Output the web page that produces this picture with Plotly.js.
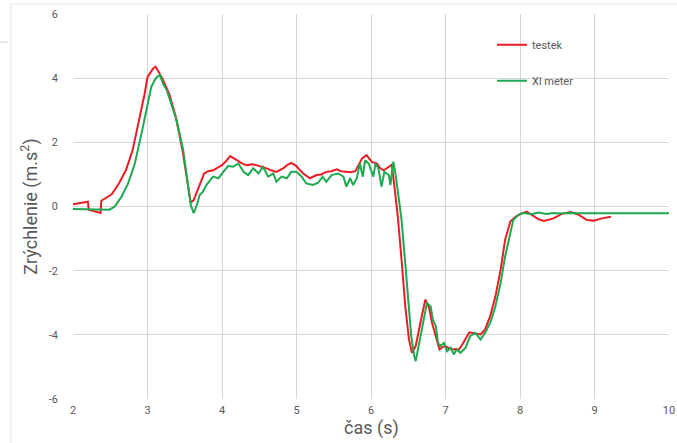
<!DOCTYPE html>
<html>
<head>
<meta charset="utf-8">
<script src="https://cdn.plot.ly/plotly-3.0.1.min.js"></script>
<style>html,body{margin:0;padding:0;background:#fff;}#chart{width:677px;height:443px;}</style>
</head>
<body>
<div id="chart"></div>
<script>
const seriesNames = ["testek", "Xl meter"];
const xTicks = [2, 3, 4, 5, 6, 7, 8, 9, 10];
const yTicks = [-6, -4, -2, 0, 2, 4, 6];

const testekX = [2.0,2.1,2.2,2.21,2.3,2.37,2.38,2.45,2.52,2.62,2.71,2.80,2.89,2.96,3.0,3.07,3.11,3.15,3.2,3.29,3.38,3.47,3.53,3.58,3.62,3.69,3.76,3.82,3.88,4.0,4.05,4.11,4.16,4.22,4.28,4.33,4.4,4.46,4.53,4.6,4.67,4.73,4.82,4.88,4.93,5.0,5.05,5.09,5.18,5.27,5.33,5.4,5.47,5.54,5.6,5.67,5.73,5.79,5.84,5.88,5.94,6.01,6.08,6.12,6.17,6.22,6.28,6.32,6.36,6.41,6.46,6.51,6.55,6.6,6.64,6.69,6.73,6.78,6.82,6.87,6.92,6.96,7.0,7.05,7.09,7.14,7.18,7.24,7.32,7.4,7.47,7.53,7.6,7.67,7.74,7.8,7.87,7.94,8.0,8.09,8.18,8.25,8.32,8.45,8.56,8.68,8.79,8.9,8.99,9.1,9.22];
const testekY = [0.07,0.1,0.15,-0.1,-0.17,-0.2,0.18,0.28,0.38,0.73,1.13,1.75,2.69,3.5,4.03,4.29,4.36,4.19,3.98,3.52,2.79,1.75,0.82,0.12,0.2,0.61,1.03,1.1,1.13,1.29,1.4,1.57,1.5,1.39,1.33,1.29,1.32,1.29,1.25,1.19,1.12,1.08,1.19,1.3,1.36,1.26,1.12,1.03,0.88,0.98,1.0,1.08,1.1,1.16,1.1,1.08,1.07,1.1,1.3,1.5,1.6,1.39,1.34,1.2,1.13,1.2,1.3,0.51,-0.32,-1.66,-3.11,-4.15,-4.56,-4.35,-3.84,-3.32,-2.9,-3.16,-3.63,-4.04,-4.46,-4.38,-4.35,-4.42,-4.46,-4.44,-4.46,-4.25,-3.92,-3.96,-3.99,-3.84,-3.42,-2.8,-1.97,-1.04,-0.47,-0.32,-0.24,-0.16,-0.3,-0.4,-0.45,-0.37,-0.23,-0.17,-0.26,-0.42,-0.44,-0.37,-0.32];

const xlX = [2.0,2.1,2.2,2.3,2.4,2.49,2.56,2.65,2.74,2.83,2.92,2.99,3.05,3.1,3.13,3.17,3.21,3.26,3.32,3.39,3.48,3.54,3.58,3.62,3.67,3.70,3.74,3.79,3.84,3.88,3.95,4.02,4.08,4.15,4.22,4.29,4.35,4.42,4.49,4.55,4.62,4.69,4.73,4.8,4.87,4.93,5.0,5.07,5.13,5.22,5.29,5.35,5.4,5.47,5.56,5.63,5.67,5.72,5.76,5.81,5.85,5.89,5.92,5.97,6.03,6.06,6.1,6.14,6.18,6.24,6.26,6.3,6.33,6.37,6.41,6.46,6.51,6.54,6.58,6.6,6.63,6.67,6.71,6.75,6.8,6.83,6.87,6.9,6.93,6.98,7.02,7.07,7.11,7.15,7.2,7.27,7.33,7.4,7.47,7.53,7.6,7.67,7.74,7.8,7.87,7.91,7.98,8.05,8.15,8.25,8.35,8.45,8.55,8.65,8.8,9.0,9.5,10.0];
const xlY = [-0.08,-0.08,-0.09,-0.09,-0.1,-0.1,0.0,0.3,0.72,1.34,2.28,3.1,3.72,3.95,4.05,4.08,3.82,3.62,3.2,2.69,1.75,0.82,0.05,-0.21,0.1,0.36,0.45,0.67,0.8,0.93,0.88,1.08,1.26,1.24,1.34,1.08,0.98,1.19,1.03,1.24,0.93,1.03,0.77,0.93,0.88,1.08,1.08,0.93,0.72,0.67,0.74,0.93,0.77,0.98,1.03,0.93,0.62,0.88,0.67,0.88,1.34,0.93,1.44,1.34,0.93,1.34,1.19,0.62,1.08,0.98,0.67,1.4,1.0,0.3,-0.42,-1.77,-3.22,-4.04,-4.66,-4.82,-4.46,-3.94,-3.53,-3.01,-3.11,-3.53,-3.73,-4.25,-4.35,-4.25,-4.51,-4.4,-4.61,-4.46,-4.56,-4.4,-4.04,-3.94,-4.15,-3.94,-3.63,-3.11,-2.38,-1.56,-0.83,-0.42,-0.26,-0.2,-0.24,-0.19,-0.23,-0.2,-0.22,-0.2,-0.21,-0.21,-0.21,-0.21];

const txt = "#595959";
const grid = "#d6d6d6";

const traces = [
  {x: testekX, y: testekY, name: seriesNames[0], type: "scatter", mode: "lines",
   line: {color: "#ec1c24", width: 2}, legendgroup: "a"},
  {x: xlX, y: xlY, name: seriesNames[1], type: "scatter", mode: "lines",
   line: {color: "#1ea84f", width: 2}, legendgroup: "b"}
];

const layout = {
  width: 677, height: 443,
  margin: {l: 73, r: 8, t: 14, b: 44},
  paper_bgcolor: "#fff", plot_bgcolor: "#fff",
  font: {family: "Roboto, sans-serif", color: txt, size: 11},
  showlegend: true,
  legend: {x: 0.703, y: 0.958, xanchor: "left", yanchor: "top", bgcolor: "rgba(0,0,0,0)",
           font: {size: 11, color: txt}, tracegroupgap: 17, itemwidth: 30},
  xaxis: {range: [2, 10], tickvals: xTicks, ticktext: xTicks.map(String), showgrid: true, gridcolor: grid,
          gridwidth: 1, zeroline: false, showline: false, ticks: "", ticklabelstandoff: 3},
  yaxis: {range: [-6, 6], tickvals: yTicks, ticktext: yTicks.map(String), showgrid: true, gridcolor: grid,
          gridwidth: 1, zeroline: false, showline: false, ticks: "", ticklabelstandoff: 14,
          title: {text: "Zrýchlenie (m.s<sup>2</sup>)", font: {size: 18, color: txt}, standoff: 6}},
  annotations: [
    {text: "čas (s)", xref: "paper", yref: "paper", x: 0.5, y: -0.045, xanchor: "center", yanchor: "top",
     showarrow: false, borderpad: 0, font: {size: 18, color: txt}}
  ],
  shapes: [
    {type: "line", xref: "paper", yref: "paper", x0: -0.104, x1: 1.02, y0: 1.026, y1: 1.026, line: {color: "#e3e3e3", width: 1}},
    {type: "line", xref: "paper", yref: "paper", x0: -0.104, x1: -0.104, y0: 1.026, y1: -0.12, line: {color: "#e3e3e3", width: 1}},
    {type: "line", xref: "paper", yref: "paper", x0: -0.123, x1: -0.109, y0: 0.927, y1: 0.927, line: {color: "#cfcfcf", width: 1}}
  ]
};

Plotly.newPlot("chart", traces, layout, {displayModeBar: false, staticPlot: true});
</script>
</body>
</html>
